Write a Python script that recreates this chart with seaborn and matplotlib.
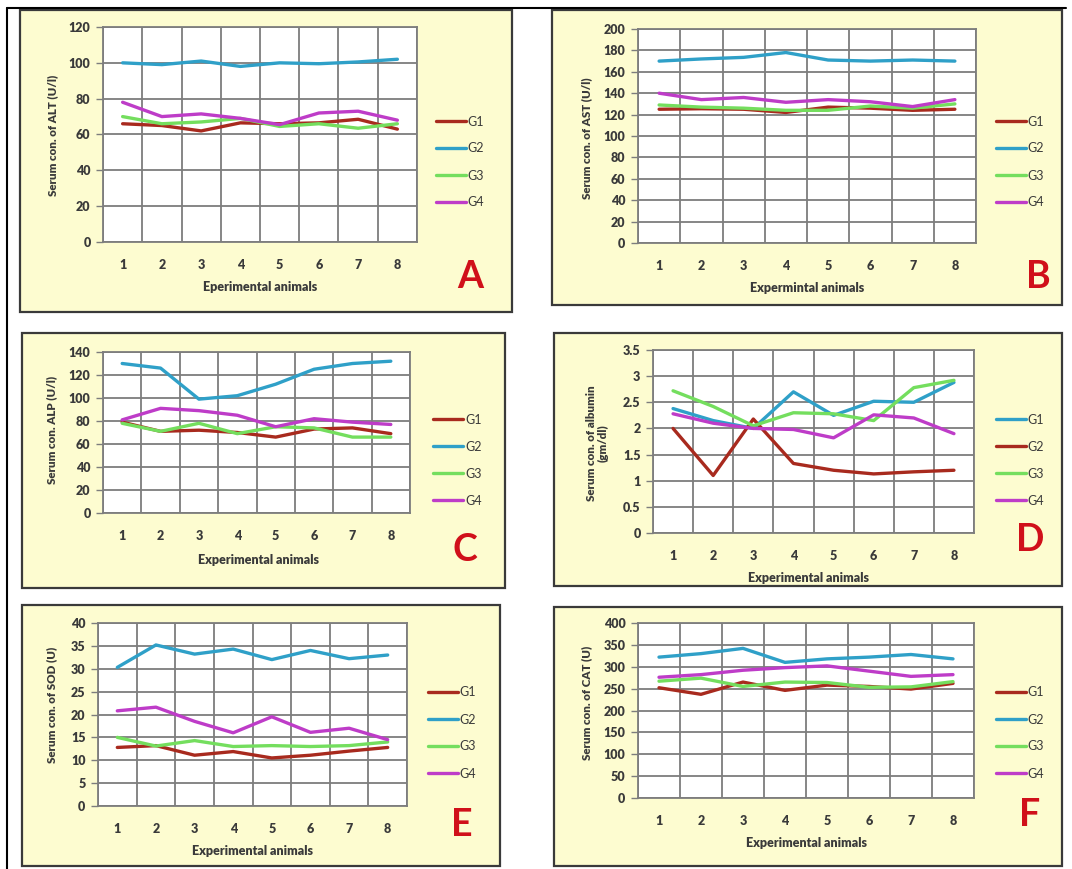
import numpy as np
import pandas as pd
import seaborn as sns
import matplotlib.pyplot as plt
from matplotlib.patches import Rectangle
from matplotlib.lines import Line2D

sns.set_theme(style="white")
plt.rcParams["font.family"] = ["Lato", "DejaVu Sans"]

W, H = 1072, 869

animals = [1, 2, 3, 4, 5, 6, 7, 8]
groups = ["G1", "G2", "G3", "G4"]

# A - ALT
alt_g1 = [66, 65, 62, 66.5, 66, 66.5, 68.5, 63]
alt_g2 = [100, 99, 101, 98, 100, 99.5, 100.5, 102]
alt_g3 = [70, 66, 67, 69, 64.5, 66, 63.5, 66]
alt_g4 = [78, 70, 71.5, 69, 65.5, 72, 73, 68]
# B - AST
ast_g1 = [125, 125.5, 125, 122, 127, 126, 124, 125]
ast_g2 = [170, 172, 173.5, 178, 171, 170, 171, 170]
ast_g3 = [129, 127, 126, 124, 124, 128, 126, 130]
ast_g4 = [140, 134, 136, 131.5, 134, 132, 127.5, 134]
# C - ALP
alp_g1 = [79, 71, 72, 70, 66, 73, 74, 69]
alp_g2 = [130, 126, 99, 102, 112, 125, 130, 132]
alp_g3 = [78, 71, 78, 69, 75, 74, 66, 66]
alp_g4 = [81, 91, 89, 85, 75, 82, 79, 77]
# D - albumin
alb_g1 = [2.38, 2.15, 2.0, 2.7, 2.25, 2.52, 2.5, 2.88]
alb_g2 = [2.0, 1.1, 2.18, 1.33, 1.2, 1.13, 1.17, 1.2]
alb_g3 = [2.72, 2.42, 2.05, 2.3, 2.28, 2.15, 2.78, 2.92]
alb_g4 = [2.28, 2.1, 2.0, 1.98, 1.82, 2.26, 2.2, 1.9]
# E - SOD
sod_g1 = [12.8, 13.2, 11.1, 11.9, 10.5, 11.1, 12.0, 12.8]
sod_g2 = [30.3, 35.2, 33.2, 34.3, 32.0, 34.0, 32.2, 33.0]
sod_g3 = [15.0, 13.1, 14.3, 13.0, 13.2, 13.0, 13.2, 14.0]
sod_g4 = [20.8, 21.6, 18.5, 16.0, 19.5, 16.1, 17.0, 14.5]
# F - CAT
cat_g1 = [252, 237, 265, 246, 258, 255, 249, 262]
cat_g2 = [322, 330, 342, 310, 318, 322, 328, 318]
cat_g3 = [267, 274, 255, 265, 264, 253, 254, 266]
cat_g4 = [276, 282, 292, 298, 302, 290, 278, 282]

RED, BLUE, GREEN, MAG = "#A82A1E", "#2FA0C8", "#74DE5E", "#BE3CC8"
std_colors = [RED, BLUE, GREEN, MAG]
alb_colors = [BLUE, RED, GREEN, MAG]

panels = [
    dict(series=[alt_g1, alt_g2, alt_g3, alt_g4], colors=std_colors, ymax=120, ystep=20,
         ylabel="Serum con. of ALT (U/l)", xlabel="Eperimental animals", letter="A",
         box=(20, 10, 512, 312), plot=(103, 27, 417, 242), xgrid=0.5,
         leg=(436, 162), xl=(260, 287), yl=(53, 135), lt=(470, 277)),
    dict(series=[ast_g1, ast_g2, ast_g3, ast_g4], colors=std_colors, ymax=200, ystep=20,
         ylabel="Serum con. of AST (U/l)", xlabel="Expermintal animals", letter="B",
         box=(552, 10, 1062, 305), plot=(638, 29, 976, 243), xgrid=1.0,
         leg=(996, 162), xl=(807, 288), yl=(587, 138), lt=(1038, 277)),
    dict(series=[alp_g1, alp_g2, alp_g3, alp_g4], colors=std_colors, ymax=140, ystep=20,
         ylabel="Serum con. ALP (U/l)", xlabel="Experimental animals", letter="C",
         box=(22, 333, 505, 588), plot=(103, 352, 410, 513), xgrid=0.5,
         leg=(433, 460), xl=(258, 560), yl=(52, 430), lt=(465, 550)),
    dict(series=[alb_g1, alb_g2, alb_g3, alb_g4], colors=alb_colors, ymax=3.5, ystep=0.5,
         ylabel="Serum con. of albumin\n(gm/dl)", xlabel="Experimental animals", letter="D",
         box=(554, 333, 1062, 586), plot=(653, 350, 974, 533), xgrid=0.5,
         leg=(996, 460), xl=(808, 578), yl=(597, 443), lt=(1030, 540)),
    dict(series=[sod_g1, sod_g2, sod_g3, sod_g4], colors=std_colors, ymax=40, ystep=5,
         ylabel="Serum con. of SOD (U)", xlabel="Experimental animals", letter="E",
         box=(22, 605, 500, 866), plot=(98, 623, 407, 806), xgrid=0.5,
         leg=(428, 733), xl=(253, 851), yl=(52, 705), lt=(462, 825)),
    dict(series=[cat_g1, cat_g2, cat_g3, cat_g4], colors=std_colors, ymax=400, ystep=50,
         ylabel="Serum con. of CAT (U)", xlabel="Experimental animals", letter="F",
         box=(554, 607, 1062, 866), plot=(638, 623, 974, 798), xgrid=0.5,
         leg=(996, 733), xl=(807, 843), yl=(587, 703), lt=(1030, 815)),
]

fig = plt.figure(figsize=(W / 100, H / 100), dpi=100)
fig.patch.set_facecolor("white")


def fxy(px, py):
    return px / W, 1 - py / H


# outer table lines
fig.add_artist(Line2D([7 / W, 1066 / W], [1 - 8 / H, 1 - 8 / H], color="black", lw=1.5))
fig.add_artist(Line2D([7 / W, 7 / W], [1 - 8 / H, 0], color="black", lw=1.5))

TXT = "#3a3a3a"
GRID = "#7d7d7d"

for p in panels:
    x0, y0, x1, y1 = p["box"]
    fig.add_artist(Rectangle((x0 / W, 1 - y1 / H), (x1 - x0) / W, (y1 - y0) / H,
                             transform=fig.transFigure, facecolor="#FDFCD0",
                             edgecolor="#3a3a3a", lw=1.6, zorder=0))
    l, t, r, b = p["plot"]
    ax = fig.add_axes([l / W, 1 - b / H, (r - l) / W, (b - t) / H])
    ax.set_facecolor("white")

    df = pd.DataFrame({
        "animal": animals * 4,
        "value": sum(p["series"], []),
        "group": [g for g in groups for _ in animals],
    })
    sns.lineplot(data=df, x="animal", y="value", hue="group", hue_order=groups,
                 palette=dict(zip(groups, p["colors"])), linewidth=2.4, ax=ax, zorder=3)

    ax.set_xlim(0.5, 8.5)
    ax.set_ylim(0, p["ymax"])
    yt = np.arange(0, p["ymax"] + p["ystep"] / 2, p["ystep"])
    ax.set_yticks(yt)
    ax.set_yticklabels([f"{v:g}" for v in yt])
    ax.set_xticks(animals)
    ax.set_xticks(np.arange(0.5, 8.51, p["xgrid"]), minor=True)
    ax.grid(axis="y", which="major", color=GRID, lw=1.3)
    ax.grid(axis="x", which="minor", color=GRID, lw=1.3)
    ax.grid(axis="x", which="major", visible=False)
    ax.tick_params(axis="y", which="major", length=5, width=1, color=GRID, pad=4,
                   labelsize=9, labelcolor=TXT, left=True)
    ax.tick_params(axis="x", which="major", length=0, pad=12, labelsize=9, labelcolor=TXT)
    ax.tick_params(axis="x", which="minor", length=0)
    for lab in ax.get_xticklabels() + ax.get_yticklabels():
        lab.set_fontweight("heavy")
    for s in ax.spines.values():
        s.set_color(GRID)
        s.set_linewidth(1.3)

    ax.set_xlabel(p["xlabel"], fontsize=9, fontweight="heavy", color=TXT, va="center")
    ax.xaxis.set_label_coords(*fxy(*p["xl"]), transform=fig.transFigure)
    ax.set_ylabel(p["ylabel"], fontsize=8.3, fontweight="heavy", color=TXT,
                  va="center", ha="center", linespacing=1.1)
    ax.yaxis.set_label_coords(*fxy(*p["yl"]), transform=fig.transFigure)

    handles, labels = ax.get_legend_handles_labels()
    ax.legend(handles, labels, loc="center left", bbox_to_anchor=fxy(*p["leg"]),
              bbox_transform=fig.transFigure, frameon=False, fontsize=9,
              labelcolor=TXT, handlelength=2.4, handletextpad=0.15,
              labelspacing=1.2, borderpad=0, borderaxespad=0)

    fig.text(*fxy(*p["lt"]), p["letter"], fontsize=27, fontweight="bold",
             color="#D0101A", ha="center", va="center")

fig.savefig("out.png", dpi=100, facecolor="white")
